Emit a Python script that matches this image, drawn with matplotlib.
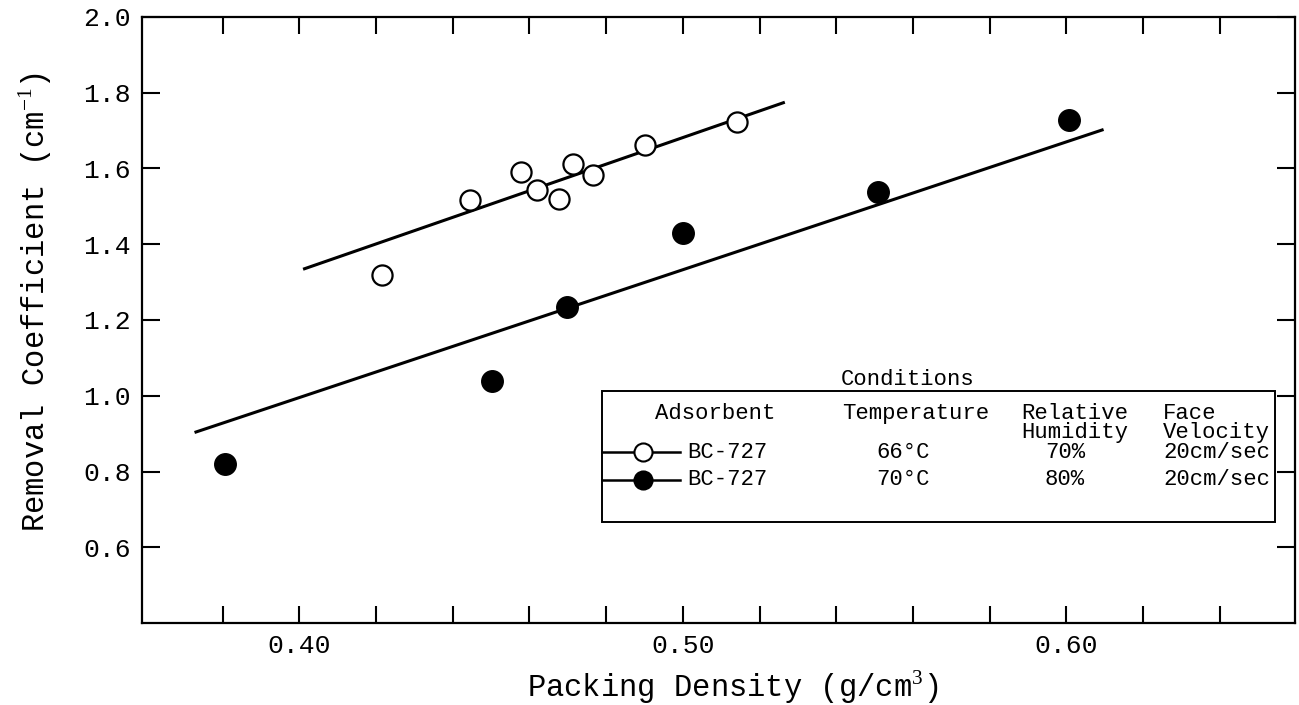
import numpy as np
import matplotlib
matplotlib.use("Agg")
import matplotlib.pyplot as plt
from matplotlib.lines import Line2D
from matplotlib.patches import Rectangle

plt.rcParams['font.family'] = ['Liberation Mono', 'DejaVu Sans Mono']
plt.rcParams['mathtext.fontset'] = 'custom'
plt.rcParams['mathtext.rm'] = 'Liberation Serif'

# data
open_x = [0.4216, 0.4445, 0.4578, 0.4619, 0.4676, 0.4713, 0.4766, 0.4902, 0.5142]
open_y = [1.319, 1.518, 1.592, 1.544, 1.520, 1.611, 1.583, 1.663, 1.723]
filled_x = [0.3807, 0.4503, 0.4698, 0.5001, 0.5509, 0.6006]
filled_y = [0.819, 1.038, 1.234, 1.431, 1.539, 1.727]

# fitted lines (end points)
open_fit_x = [0.401, 0.5266]
open_fit_y = [1.334, 1.775]
filled_fit_x = [0.3727, 0.6097]
filled_fit_y = [0.903, 1.703]

x_ticks = np.round(np.arange(0.38, 0.645, 0.02), 2)
x_labels = {0.40: '0.40', 0.50: '0.50', 0.60: '0.60'}
y_ticks = [0.6, 0.8, 1.0, 1.2, 1.4, 1.6, 1.8, 2.0]

headers = ['Adsorbent', 'Temperature', 'Relative\nHumidity', 'Face\nVelocity']
rows = [('BC-727', '66°C', '70%', '20cm/sec'),
        ('BC-727', '70°C', '80%', '20cm/sec')]

fig = plt.figure(figsize=(12.99, 7.05), dpi=100)
ax = fig.add_axes([0.1093, 0.1163, 0.8876, 0.8596])

ax.plot(open_fit_x, open_fit_y, color='black', lw=2.2, solid_capstyle='butt')
ax.plot(filled_fit_x, filled_fit_y, color='black', lw=2.2, solid_capstyle='butt')
ax.plot(open_x, open_y, 'o', ms=14.5, mfc='white', mec='black', mew=1.6, zorder=3)
ax.plot(filled_x, filled_y, 'o', ms=15.5, mfc='black', mec='black', zorder=3)

ax.set_xlim(0.359, 0.6596)
ax.set_ylim(0.4, 2.0)
ax.set_xticks(x_ticks)
ax.set_xticklabels([x_labels.get(float(t), '') for t in x_ticks])
ax.set_yticks(y_ticks)
ax.set_yticklabels(['%.1f' % v for v in y_ticks])
ax.tick_params(axis='x', direction='in', length=12, width=1.5, top=True,
               labelsize=19, pad=8)
ax.tick_params(axis='y', direction='in', length=13, width=1.5, right=True,
               labelsize=19, pad=8)
for s in ax.spines.values():
    s.set_linewidth(1.6)

ax.set_xlabel(r'Packing Density (g/cm$^{3}$)', fontsize=22)
ax.xaxis.set_label_coords(0.512, -0.075)
ax.set_ylabel(r'Removal Coefficient (cm$^{-1}$)', fontsize=22)
ax.yaxis.set_label_coords(-0.076, 0.53)

# conditions box
tr = ax.transAxes
ax.add_patch(Rectangle((0.399, 0.1667), 0.5837, 0.2161, transform=tr,
                       facecolor='white', edgecolor='black', lw=1.4, zorder=4))
ax.text(0.664, 0.384, 'Conditions', transform=tr, fontsize=16,
        ha='center', va='bottom', zorder=5)
fs = 16
hx = [0.445, 0.607, 0.763, 0.8855]
for x, h in zip(hx, headers):
    ax.text(x, 0.363, h, transform=tr, fontsize=fs, ha='left', va='top',
            linespacing=0.9, zorder=5)
row_y = [0.282, 0.236]
fills = ['white', 'black']
for y, r, fc in zip(row_y, rows, fills):
    ax.add_line(Line2D([0.399, 0.4666], [y, y], transform=tr, color='black',
                       lw=1.8, zorder=5))
    ax.add_line(Line2D([0.4345], [y], transform=tr, marker='o', ms=13,
                       mfc=fc, mec='black', mew=1.5, zorder=6))
    ax.text(0.4727, y, r[0], transform=tr, fontsize=fs, va='center', zorder=5)
    ax.text(0.660, y, r[1], transform=tr, fontsize=fs, va='center', ha='center', zorder=5)
    ax.text(0.8005, y, r[2], transform=tr, fontsize=fs, va='center', ha='center', zorder=5)
    ax.text(0.8855, y, r[3], transform=tr, fontsize=fs, va='center', zorder=5)

fig.savefig('out.png', dpi=100)
